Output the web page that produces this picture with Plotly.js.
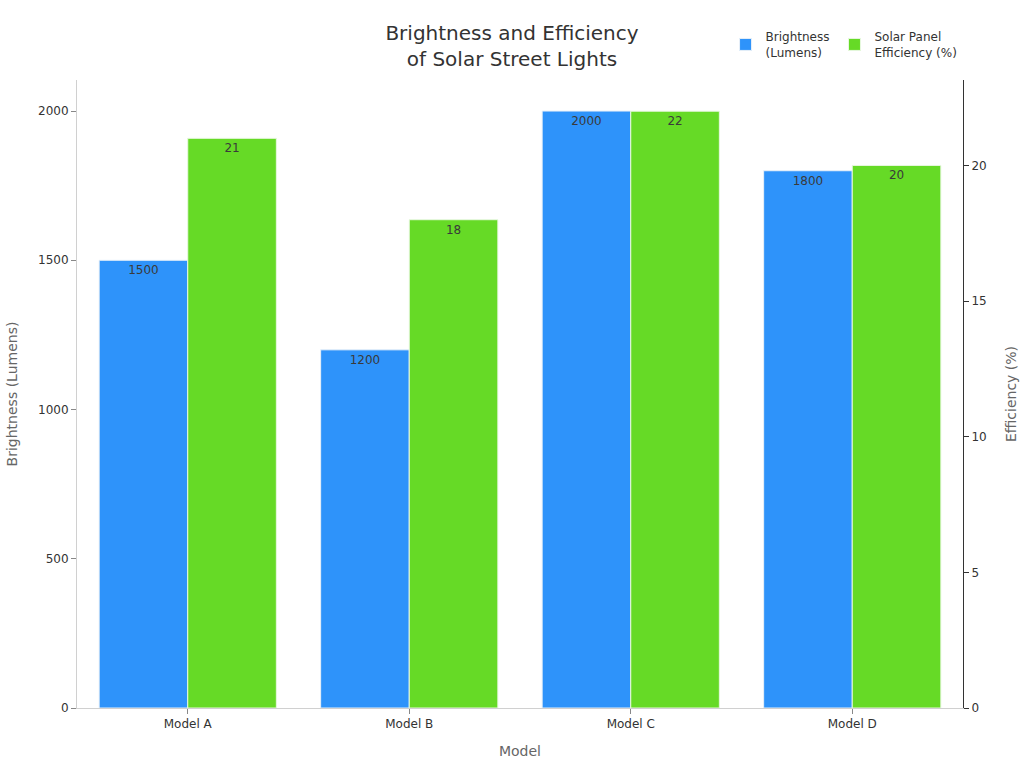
<!DOCTYPE html>
<html>
<head>
<meta charset="utf-8">
<script src="https://cdn.plot.ly/plotly-3.0.1.min.js"></script>
<style>
  html, body { margin: 0; padding: 0; background: #fff; }
  #chart { width: 1024px; height: 768px; }
</style>
</head>
<body>
<div id="chart"></div>
<script>
// Solar street light models and their measured figures
const models = ["Model A", "Model B", "Model C", "Model D"];
const brightnessLumens = [1500, 1200, 2000, 1800];
const panelEfficiency = [21, 18, 22, 20];

const FONT = "DejaVu Sans, Verdana, sans-serif";

const traces = [
  {
    type: "bar",
    name: "Brightness<br>(Lumens)",
    x: models,
    y: brightnessLumens,
    yaxis: "y",
    offsetgroup: "1",
    marker: { color: "#2E93FA", line: { color: "#e8f0f8", width: 1 } },
    text: brightnessLumens.map(String),
    textposition: "inside",
    insidetextanchor: "end",
    textfont: { family: FONT, size: 12, color: "#3a3a3a" },
    hoverinfo: "x+y"
  },
  {
    type: "bar",
    name: "Solar Panel<br>Efficiency (%)",
    x: models,
    y: panelEfficiency,
    yaxis: "y2",
    offsetgroup: "2",
    marker: { color: "#66DA26", line: { color: "#e8f8e0", width: 1 } },
    text: panelEfficiency.map(String),
    textposition: "inside",
    insidetextanchor: "end",
    textfont: { family: FONT, size: 12, color: "#3a3a3a" },
    hoverinfo: "x+y"
  }
];

const layout = {
  width: 1024,
  height: 768,
  margin: { l: 77, r: 61, t: 80, b: 60, autoexpand: false },
  paper_bgcolor: "#fff",
  plot_bgcolor: "#fff",
  font: { family: FONT, size: 12, color: "#333" },
  title: {
    text: "Brightness and Efficiency<br>of Solar Street Lights",
    x: 0.5,
    xanchor: "center",
    y: 0.948,
    yanchor: "middle",
    font: { family: FONT, size: 20, color: "#333" }
  },
  barmode: "group",
  bargap: 0.2,
  bargroupgap: 0,
  showlegend: true,
  legend: {
    orientation: "h",
    x: 0.732,
    xanchor: "left",
    y: 1.056,
    yanchor: "middle",
    font: { family: FONT, size: 12, color: "#333" },
    itemwidth: 30,
    traceorder: "normal"
  },
  xaxis: {
    title: { text: "Model", font: { family: FONT, size: 14, color: "#666" }, standoff: 15 },
    showline: true,
    linecolor: "#d0d0d0",
    linewidth: 1,
    ticks: "outside",
    tickcolor: "#888",
    ticklen: 5,
    showgrid: false,
    tickfont: { family: FONT, size: 12, color: "#333" }
  },
  yaxis: {
    title: { text: "Brightness (Lumens)", font: { family: FONT, size: 14, color: "#666" }, standoff: 17 },
    range: [0, 2104],
    showline: true,
    linecolor: "#d0d0d0",
    linewidth: 1,
    ticks: "outside",
    tickcolor: "#888",
    ticklen: 5,
    showgrid: false,
    zeroline: false,
    dtick: 500,
    tickfont: { family: FONT, size: 12, color: "#333" }
  },
  yaxis2: {
    title: { text: "Efficiency (%)", font: { family: FONT, size: 14, color: "#666" }, standoff: 20 },
    overlaying: "y",
    side: "right",
    range: [0, 23.15],
    showline: true,
    linecolor: "#333",
    linewidth: 1,
    ticks: "outside",
    tickcolor: "#333",
    ticklen: 5,
    showgrid: false,
    zeroline: false,
    dtick: 5,
    tickfont: { family: FONT, size: 12, color: "#333" }
  }
};

Plotly.newPlot("chart", traces, layout, { displayModeBar: false, responsive: false });
</script>
</body>
</html>
